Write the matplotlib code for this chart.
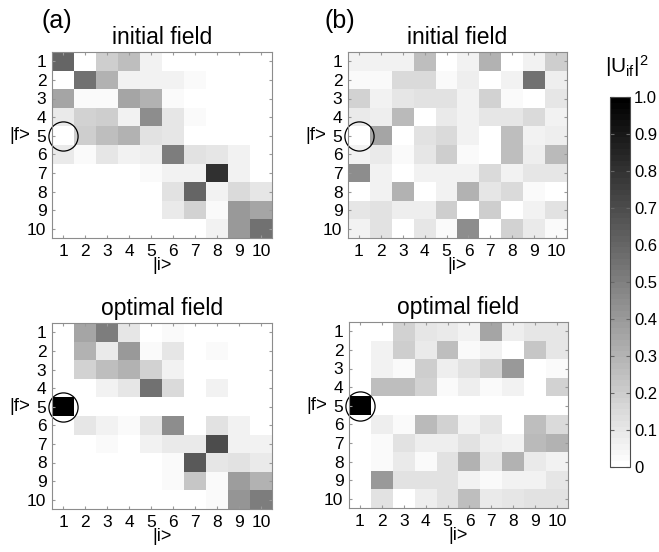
import numpy as np
import matplotlib
matplotlib.use("Agg")
import matplotlib.pyplot as plt
import matplotlib.transforms as mtransforms

plt.rcParams['font.family'] = ['Liberation Sans', 'DejaVu Sans']
plt.rcParams['mathtext.default'] = 'regular'

#%% data: |U_if|^2, rows = final state |f> 1..10, cols = initial state |i> 1..10
states = list(range(1, 11))

init_a = [
    [0.60, 0.00, 0.20, 0.25, 0.05, 0.00, 0.00, 0.00, 0.00, 0.00],
    [0.00, 0.55, 0.30, 0.05, 0.05, 0.05, 0.02, 0.00, 0.00, 0.00],
    [0.35, 0.02, 0.02, 0.35, 0.30, 0.02, 0.00, 0.00, 0.00, 0.00],
    [0.08, 0.18, 0.20, 0.05, 0.45, 0.10, 0.02, 0.00, 0.00, 0.00],
    [0.00, 0.20, 0.25, 0.30, 0.12, 0.10, 0.00, 0.00, 0.00, 0.00],
    [0.08, 0.03, 0.10, 0.05, 0.07, 0.50, 0.12, 0.10, 0.05, 0.00],
    [0.00, 0.00, 0.00, 0.00, 0.02, 0.05, 0.05, 0.80, 0.05, 0.00],
    [0.00, 0.00, 0.00, 0.00, 0.00, 0.12, 0.60, 0.05, 0.15, 0.10],
    [0.00, 0.00, 0.00, 0.00, 0.00, 0.08, 0.18, 0.02, 0.40, 0.35],
    [0.00, 0.00, 0.00, 0.00, 0.00, 0.00, 0.00, 0.05, 0.40, 0.55],
]

init_b = [
    [0.05, 0.05, 0.05, 0.25, 0.00, 0.05, 0.30, 0.00, 0.05, 0.20],
    [0.02, 0.02, 0.15, 0.15, 0.02, 0.07, 0.00, 0.05, 0.55, 0.07],
    [0.18, 0.05, 0.10, 0.12, 0.12, 0.05, 0.18, 0.02, 0.00, 0.10],
    [0.08, 0.07, 0.28, 0.00, 0.08, 0.05, 0.10, 0.10, 0.15, 0.05],
    [0.00, 0.35, 0.00, 0.12, 0.15, 0.05, 0.00, 0.25, 0.05, 0.07],
    [0.05, 0.08, 0.02, 0.10, 0.20, 0.02, 0.00, 0.25, 0.07, 0.28],
    [0.45, 0.05, 0.00, 0.05, 0.05, 0.05, 0.15, 0.05, 0.10, 0.10],
    [0.00, 0.05, 0.30, 0.00, 0.05, 0.30, 0.10, 0.15, 0.02, 0.00],
    [0.10, 0.12, 0.07, 0.07, 0.20, 0.00, 0.20, 0.00, 0.05, 0.12],
    [0.05, 0.12, 0.00, 0.10, 0.03, 0.45, 0.00, 0.18, 0.08, 0.03],
]

opt_a = [
    [0.00, 0.35, 0.50, 0.10, 0.00, 0.02, 0.00, 0.00, 0.00, 0.00],
    [0.00, 0.30, 0.08, 0.40, 0.02, 0.10, 0.00, 0.02, 0.00, 0.00],
    [0.00, 0.18, 0.25, 0.30, 0.18, 0.05, 0.00, 0.00, 0.00, 0.00],
    [0.00, 0.00, 0.05, 0.10, 0.55, 0.15, 0.00, 0.05, 0.00, 0.00],
    [1.00, 0.00, 0.00, 0.00, 0.00, 0.00, 0.00, 0.00, 0.00, 0.00],
    [0.00, 0.10, 0.05, 0.03, 0.10, 0.45, 0.00, 0.12, 0.05, 0.00],
    [0.00, 0.00, 0.02, 0.00, 0.05, 0.08, 0.08, 0.70, 0.05, 0.05],
    [0.00, 0.00, 0.00, 0.00, 0.00, 0.02, 0.65, 0.10, 0.12, 0.08],
    [0.00, 0.00, 0.00, 0.00, 0.00, 0.03, 0.22, 0.02, 0.38, 0.30],
    [0.00, 0.00, 0.00, 0.00, 0.00, 0.00, 0.00, 0.02, 0.42, 0.50],
]

opt_b = [
    [0.00, 0.00, 0.18, 0.10, 0.08, 0.05, 0.35, 0.07, 0.10, 0.10],
    [0.00, 0.05, 0.20, 0.08, 0.25, 0.02, 0.05, 0.00, 0.22, 0.10],
    [0.00, 0.05, 0.02, 0.20, 0.07, 0.12, 0.18, 0.40, 0.00, 0.02],
    [0.00, 0.25, 0.25, 0.18, 0.02, 0.07, 0.02, 0.05, 0.00, 0.18],
    [1.00, 0.00, 0.00, 0.00, 0.00, 0.00, 0.00, 0.00, 0.00, 0.00],
    [0.00, 0.07, 0.02, 0.28, 0.18, 0.05, 0.10, 0.00, 0.25, 0.15],
    [0.00, 0.02, 0.12, 0.07, 0.07, 0.12, 0.07, 0.05, 0.28, 0.30],
    [0.00, 0.02, 0.08, 0.02, 0.12, 0.30, 0.10, 0.30, 0.08, 0.05],
    [0.00, 0.40, 0.12, 0.12, 0.12, 0.05, 0.03, 0.05, 0.05, 0.10],
    [0.00, 0.12, 0.00, 0.07, 0.12, 0.25, 0.08, 0.10, 0.12, 0.12],
]

cbar_ticks = [0, 0.1, 0.2, 0.3, 0.4, 0.5, 0.6, 0.7, 0.8, 0.9, 1.0]
cbar_labels = ['0', '0.1', '0.2', '0.3', '0.4', '0.5', '0.6', '0.7', '0.8', '0.9', '1.0']

#%% figure
W, H = 659, 552
fig = plt.figure(figsize=(W / 100, H / 100), dpi=100)
cmap = plt.get_cmap('gray_r', 64)


def px_axes(x0, y0, x1, y1):
    # pixel box (top-left origin) -> figure axes
    return fig.add_axes([x0 / W, 1 - y1 / H, (x1 - x0) / W, (y1 - y0) / H])


panels = [
    (px_axes(52, 52, 272, 238), init_a, 'initial field'),
    (px_axes(348, 52, 567, 238), init_b, 'initial field'),
    (px_axes(52, 323, 272, 509), opt_a, 'optimal field'),
    (px_axes(349, 322, 568, 508), opt_b, 'optimal field'),
]

for ax, mat, title in panels:
    im = ax.imshow(np.array(mat), cmap=cmap, vmin=0, vmax=1, aspect='auto',
                   interpolation='nearest', extent=[0.5, 10.5, 10.5, 0.5])
    ax.set_xticks(states)
    ax.set_yticks(states)
    ax.tick_params(direction='in', length=2.5, color='0.6', top=True, right=True,
                   labelsize=12.5, pad=4)
    for sp in ax.spines.values():
        sp.set_color('0.55')
        sp.set_linewidth(0.8)
    ax.set_title(title, fontsize=16.5, pad=6)
    ax.set_xlabel('|i>', fontsize=13, labelpad=-1)
    trans = mtransforms.blended_transform_factory(ax.transAxes, ax.transData)
    ax.text(-0.10, 5, '|f>', transform=trans, ha='right', va='center', fontsize=13.5)
    # marked transition |1> -> |5>
    ax.plot(1, 5, 'o', mfc='none', mec='k', ms=21, mew=0.9, clip_on=False)

fig.text(57 / W, 1 - 21 / H, '(a)', ha='center', va='center', fontsize=18)
fig.text(340 / W, 1 - 21 / H, '(b)', ha='center', va='center', fontsize=18)

#%% colorbar
cax = px_axes(610, 97, 630, 467)
cbar = fig.colorbar(im, cax=cax, ticks=cbar_ticks)
cbar.ax.set_yticklabels(cbar_labels)
cbar.ax.tick_params(direction='in', length=3, color='0.4', labelsize=12, pad=3,
                    left=True, right=True)
cbar.outline.set_linewidth(0.8)
cbar.outline.set_edgecolor('0.3')
fig.text(627 / W, 1 - 66 / H, '|U$_{if}$|$^2$', ha='center', va='center', fontsize=15)

plt.savefig('out.png', dpi=100)
